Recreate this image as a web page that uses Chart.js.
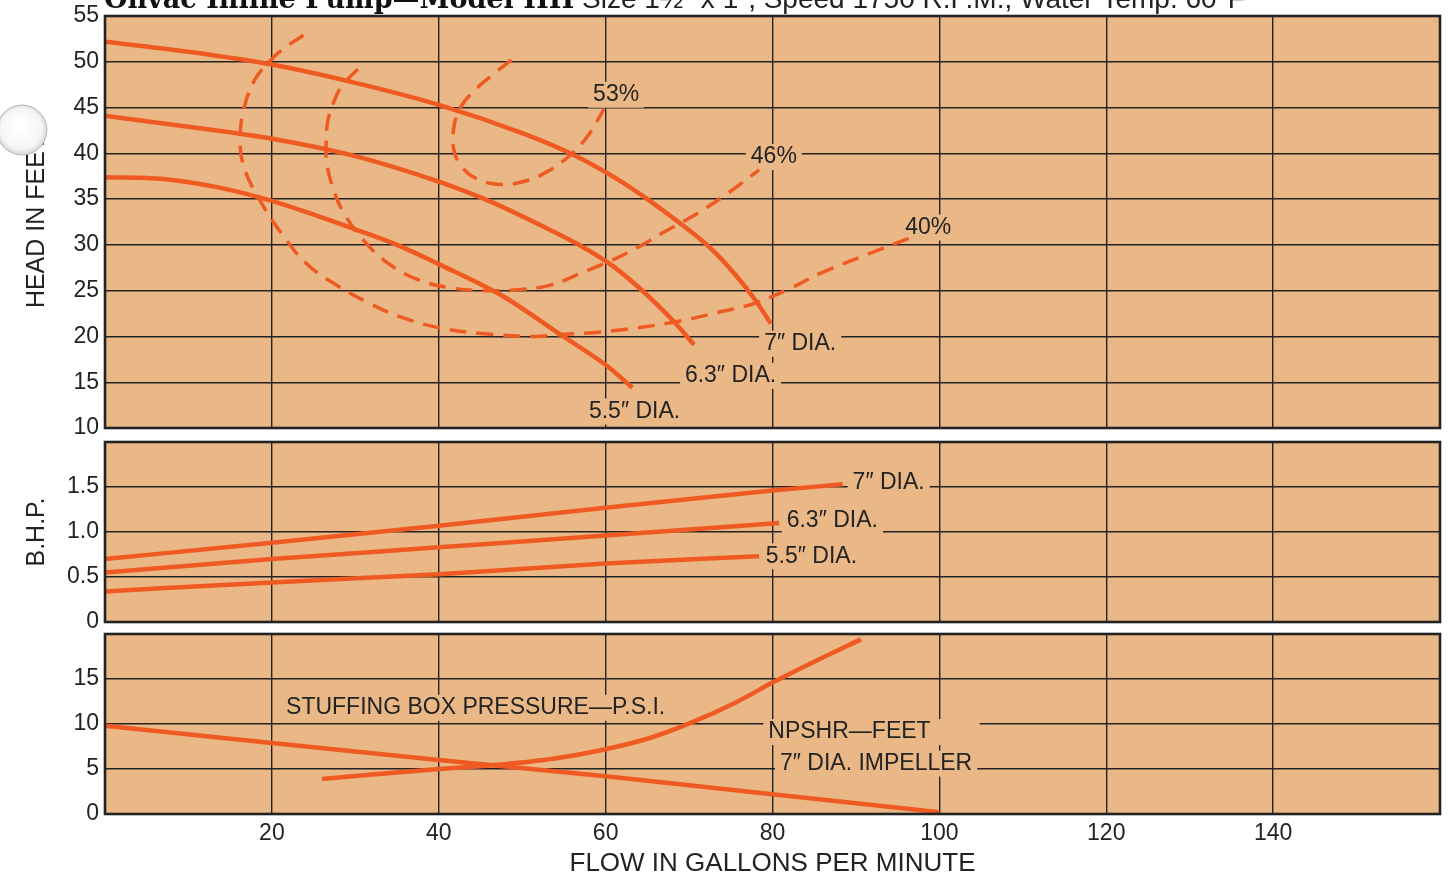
<!DOCTYPE html>
<html>
<head>
<meta charset="utf-8">
<script src="https://cdn.jsdelivr.net/npm/chart.js@4.4.1/dist/chart.umd.min.js"></script>
<style>
  body { margin: 0; background: #fff; }
  #sheet { position: relative; width: 1454px; height: 880px; overflow: hidden; }
  .panel { position: absolute; left: 0; width: 1454px; }
</style>
</head>
<body>
<div id="sheet">
  <div class="panel" style="top:-4px; height:452px"><canvas id="headChart"></canvas></div>
  <div class="panel" style="top:422px; height:220px"><canvas id="bhpChart"></canvas></div>
  <div class="panel" style="top:614px; height:266px"><canvas id="npshChart"></canvas></div>
</div>
<script>
// tick values
const flowTicks = [20, 40, 60, 80, 100, 120, 140];
const headTicks = [10, 15, 20, 25, 30, 35, 40, 45, 50, 55];
const bhpTicks = [0, 0.5, 1.0, 1.5];
const bhpTickLabels = ['0', '0.5', '1.0', '1.5'];
const pressTicks = [0, 5, 10, 15];

// head-capacity curves, [gpm, feet]
const head7 = [[0, 52.2], [10, 51.1], [20, 49.7], [30, 47.7], [40, 45.3], [50, 42.2], [56, 39.9], [61, 37.4],
  [65, 35.0], [69, 32.3], [72.5, 29.7], [75.5, 26.8], [78, 23.9], [79.8, 21.4]];
const head63 = [[0, 44.1], [10, 42.9], [20, 41.6], [30, 39.7], [40, 36.9], [46, 34.8], [53.4, 31.6], [57, 29.9],
  [61, 27.6], [65, 24.5], [68.2, 21.6], [70.6, 19.1]];
const head55 = [[0, 37.4], [7, 37.2], [14, 36.2], [20, 34.8], [25, 33.3], [30, 31.7], [35, 30.0], [40, 27.9],
  [47.5, 24.5], [54.6, 20.2], [60, 16.9], [63.2, 14.4]];

// efficiency contours, [gpm, feet]
const eff53 = [[48.7, 50.2], [46.5, 48.6], [44.2, 46.8], [42.6, 45.0], [41.8, 42.8], [41.8, 40.4], [42.7, 38.6],
  [44.6, 37.2], [47.5, 36.6], [50.5, 37.0], [53, 38.0], [55.5, 39.6], [57.7, 41.7], [59.8, 44.8]];
const eff46 = [[30.3, 49.2], [28.5, 47.5], [27.5, 45.8], [26.7, 43.5], [26.5, 41.0], [26.6, 38.8], [27.4, 36.0],
  [28.6, 33.5], [31, 30.5], [33.9, 28.0], [37.5, 26.2], [41.5, 25.3], [45.5, 25.0], [49.5, 25.1], [53.4, 25.6],
  [57, 26.9], [60.7, 28.3], [64, 29.8], [67, 31.4], [70, 32.9], [72.5, 34.3], [75.5, 36.2], [78.4, 38.2]];
const eff40 = [[23.8, 52.9], [21.8, 51.7], [20, 50.3], [18, 48.1], [16.6, 44.7], [16.2, 41.0], [16.8, 38.1],
  [18.8, 34.5], [21.2, 31.2], [24.1, 28.0], [27.4, 25.8], [31.5, 23.7], [35.5, 22.1], [40.3, 20.9], [45.5, 20.3],
  [51.4, 20.0], [54.6, 20.2], [60.6, 20.6], [67.8, 21.5], [73.8, 22.7], [77.8, 23.6], [82, 25.2], [86, 27.0],
  [92.3, 29.3], [96.6, 30.8]];

// brake horsepower, [gpm, hp]
const bhp7 = [[0, 0.70], [20, 0.88], [40, 1.07], [60, 1.27], [80, 1.46], [88.4, 1.53]];
const bhp63 = [[0, 0.55], [20, 0.70], [40, 0.83], [60, 0.96], [80.8, 1.10]];
const bhp55 = [[0, 0.34], [20, 0.44], [40, 0.53], [60, 0.65], [78.4, 0.73]];

// stuffing box pressure (psi) and NPSHR (feet)
const stuffingBox = [[0, 9.8], [20, 7.9], [40, 6.0], [60, 4.2], [80, 2.2], [100, 0.2]];
const npshr = [[26, 3.9], [40, 5.0], [47.5, 5.5], [53.5, 6.1], [60, 7.2], [65.5, 8.5], [70.4, 10.2], [75.6, 12.4],
  [80, 14.6], [85.6, 17.2], [90.6, 19.4]];

const PAPER = '#EAB886';
const INK = '#232323';
const CURVE = '#EE5A22';
const FONT = '"Liberation Sans", Arial, sans-serif';

function curve(pairs, opts) {
  return Object.assign({
    data: pairs.map(([x, y]) => ({ x: x, y: y })),
    showLine: true,
    borderColor: CURVE,
    borderWidth: 4.5,
    pointRadius: 0,
    cubicInterpolationMode: 'monotone',
    fill: false
  }, opts || {});
}

// efficiency loops double back on x, so they use plain bezier smoothing
function dashed(pairs) {
  return curve(pairs, { borderWidth: 3.5, borderDash: [17, 10], cubicInterpolationMode: 'default', tension: 0.4 });
}

// paper background and heavy frame around the plot area
const sheetPlugin = {
  id: 'sheet',
  beforeDraw(chart) {
    const a = chart.chartArea;
    chart.ctx.save();
    chart.ctx.fillStyle = PAPER;
    chart.ctx.fillRect(a.left, a.top, a.right - a.left, a.bottom - a.top);
    chart.ctx.restore();
  },
  afterDraw(chart) {
    const a = chart.chartArea;
    const ctx = chart.ctx;
    ctx.save();
    ctx.strokeStyle = INK;
    ctx.lineWidth = 2.6;
    ctx.strokeRect(a.left, a.top, a.right - a.left, a.bottom - a.top);
    ctx.restore();
  }
};

// curve captions, each on a patch of paper so the grid breaks around it
const notesPlugin = {
  id: 'notes',
  beforeDatasetsDraw(chart, args, opts) {
    const ctx = chart.ctx;
    const xs = chart.scales.x, ys = chart.scales.y;
    ctx.save();
    ctx.font = '23px ' + FONT;
    ctx.textBaseline = 'middle';
    ctx.textAlign = 'left';
    (opts.items || []).forEach(n => {
      const px = xs.getPixelForValue(n.x);
      const py = ys.getPixelForValue(n.y);
      const w = ctx.measureText(n.text).width;
      ctx.fillStyle = PAPER;
      ctx.fillRect(px - 5, py - 13, w + 10 + (n.padRight || 0), 26);
      ctx.fillStyle = INK;
      ctx.fillText(n.text, px, py);
    });
    ctx.restore();
  }
};

// heading strip and binder hole along the top sheet
const headingPlugin = {
  id: 'heading',
  afterDraw(chart) {
    const ctx = chart.ctx;
    ctx.save();
    ctx.fillStyle = '#111';
    ctx.textBaseline = 'alphabetic';
    ctx.font = 'bold 27px "DejaVu Serif", serif';
    ctx.fillText('Onvac Inline Pump\u2014Model HH', 104, 12);
    ctx.font = '28px ' + FONT;
    ctx.fillStyle = '#222';
    ctx.fillText('Size 1\u00BD\u2033 x 1\u2033, Speed 1750 R.P.M., Water Temp. 60\u00B0F', 582, 12);

    const g = ctx.createRadialGradient(19, 129, 4, 22, 134, 26);
    g.addColorStop(0, '#ffffff');
    g.addColorStop(0.75, '#f5f5f5');
    g.addColorStop(1, '#cfcfcf');
    ctx.beginPath();
    ctx.arc(22, 134, 25, 0, Math.PI * 2);
    ctx.fillStyle = g;
    ctx.fill();
    ctx.strokeStyle = '#b9b9b9';
    ctx.lineWidth = 1;
    ctx.stroke();
    ctx.restore();
  }
};

function fixedTicks(values) {
  return scale => { scale.ticks = values.map(v => ({ value: v })); };
}

function panel(id, cfg) {
  const yAxis = {
    type: 'linear',
    min: cfg.yMin,
    max: cfg.yMax,
    afterBuildTicks: fixedTicks(cfg.yTicks),
    afterFit: s => { s.width = 105; },
    grid: { color: INK, lineWidth: 1.4, drawTicks: false },
    border: { display: false },
    ticks: {
      color: INK,
      padding: 6,
      font: { family: FONT, size: 23 },
      callback: cfg.yLabel || (v => String(v))
    },
    title: {
      display: !!cfg.yTitle,
      text: cfg.yTitle || '',
      color: INK,
      font: { family: FONT, size: 25 },
      padding: { top: 22, bottom: 0 }
    }
  };
  const xAxis = {
    type: 'linear',
    min: 0,
    max: 160,
    afterBuildTicks: fixedTicks(flowTicks),
    grid: { color: INK, lineWidth: 1.4, drawTicks: false },
    border: { display: false },
    ticks: {
      display: !!cfg.xLabels,
      autoSkip: false,
      maxRotation: 0,
      color: INK,
      padding: 6,
      font: { family: FONT, size: 23 }
    },
    title: {
      display: !!cfg.xLabels,
      text: 'FLOW IN GALLONS PER MINUTE',
      color: INK,
      font: { family: FONT, size: 26 },
      padding: { top: 0, bottom: 1 }
    },
    afterFit: s => { s.height = cfg.xLabels ? 66 : 0; }
  };
  return new Chart(document.getElementById(id), {
    type: 'scatter',
    data: { datasets: cfg.datasets },
    options: {
      responsive: true,
      maintainAspectRatio: false,
      animation: false,
      layout: { padding: cfg.padding },
      scales: { x: xAxis, y: yAxis },
      plugins: {
        legend: { display: false },
        tooltip: { enabled: false },
        notes: { items: cfg.notes }
      }
    },
    plugins: [sheetPlugin, notesPlugin].concat(cfg.extra || [])
  });
}

panel('headChart', {
  yMin: 10, yMax: 55, yTicks: headTicks,
  yTitle: 'HEAD IN FEET',
  padding: { top: 20, bottom: 20, left: 0, right: 14 },
  datasets: [curve(head7), curve(head63), curve(head55), dashed(eff53), dashed(eff46), dashed(eff40)],
  notes: [
    { text: '53%', x: 58.5, y: 46.4 },
    { text: '46%', x: 77.4, y: 39.6 },
    { text: '40%', x: 95.9, y: 31.9 },
    { text: '7\u2033 DIA.', x: 79.0, y: 19.2 },
    { text: '6.3\u2033 DIA.', x: 69.5, y: 15.7 },
    { text: '5.5\u2033 DIA.', x: 58.0, y: 11.8 }
  ],
  extra: [headingPlugin]
});

panel('bhpChart', {
  yMin: 0, yMax: 2, yTicks: bhpTicks,
  yLabel: (v, i) => bhpTickLabels[i],
  yTitle: 'B.H.P.',
  padding: { top: 20, bottom: 20, left: 0, right: 14 },
  datasets: [curve(bhp7), curve(bhp63), curve(bhp55)],
  notes: [
    { text: '7\u2033 DIA.', x: 89.6, y: 1.55 },
    { text: '6.3\u2033 DIA.', x: 81.7, y: 1.13 },
    { text: '5.5\u2033 DIA.', x: 79.2, y: 0.73 }
  ]
});

panel('npshChart', {
  yMin: 0, yMax: 20, yTicks: pressTicks,
  padding: { top: 20, bottom: 0, left: 0, right: 14 },
  xLabels: true,
  datasets: [curve(stuffingBox, { cubicInterpolationMode: 'default', tension: 0 }), curve(npshr)],
  notes: [
    { text: 'STUFFING BOX PRESSURE\u2014P.S.I.', x: 21.7, y: 11.8 },
    { text: 'NPSHR\u2014FEET', x: 79.5, y: 9.1, padRight: 44 },
    { text: '7\u2033 DIA. IMPELLER', x: 80.9, y: 5.6 }
  ]
});
</script>
</body>
</html>
